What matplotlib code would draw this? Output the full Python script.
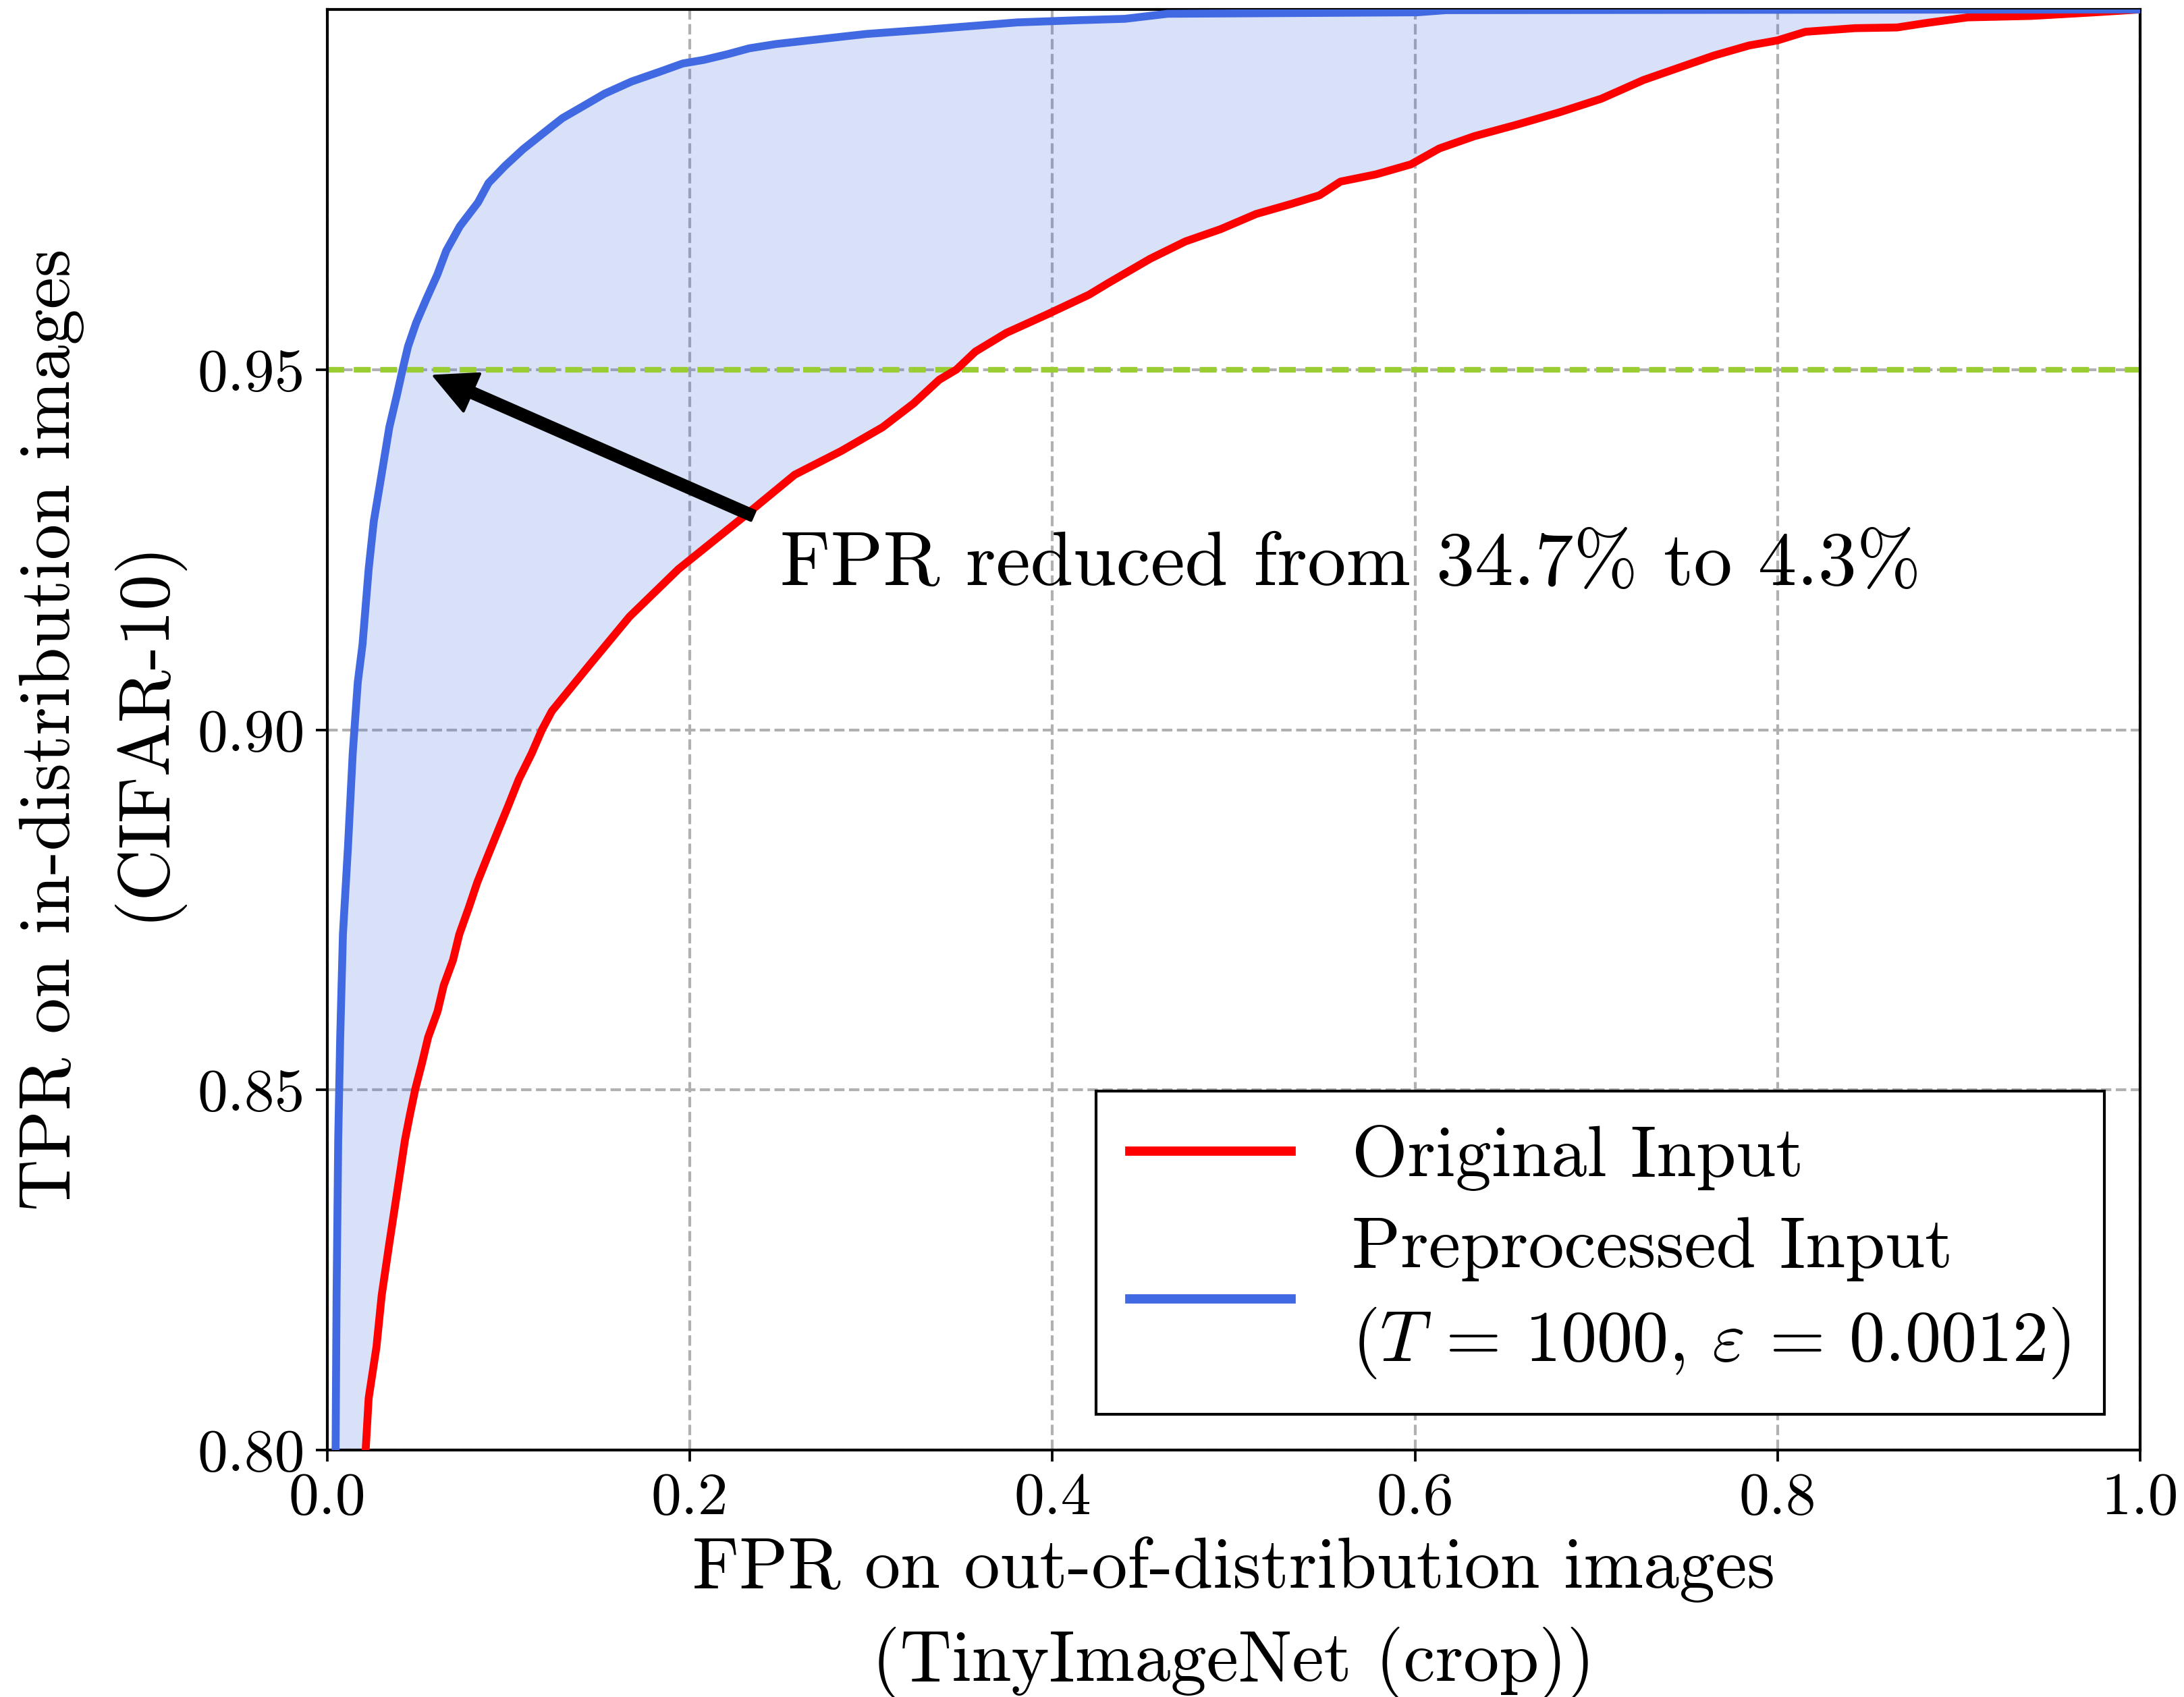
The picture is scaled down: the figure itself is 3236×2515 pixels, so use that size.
import matplotlib
matplotlib.use("Agg")
import matplotlib.pyplot as plt
import numpy as np

plt.rcParams['font.family'] = 'cmr10'
plt.rcParams['mathtext.fontset'] = 'cm'
plt.rcParams['axes.formatter.use_mathtext'] = True
plt.rcParams['axes.unicode_minus'] = False

# ---- data ----
blue_fpr = [0.0043, 0.0051, 0.0060, 0.0071, 0.0086, 0.0114, 0.0140, 0.0168, 0.0194, 0.0228,
            0.0256, 0.0299, 0.0342, 0.0385, 0.0415, 0.0445, 0.0490, 0.0548, 0.0607, 0.0656,
            0.0731, 0.0831, 0.0889, 0.0981, 0.1080, 0.1180, 0.1296, 0.1413, 0.1529, 0.1679,
            0.1828, 0.1961, 0.2077, 0.2210, 0.2327, 0.2476, 0.2975, 0.3306, 0.3805, 0.4136,
            0.4400, 0.4635, 0.6010, 0.6170, 1.0]
blue_tpr = [0.7900, 0.8215, 0.8430, 0.8573, 0.8716, 0.8838, 0.8967, 0.9066, 0.9118, 0.9223,
            0.9289, 0.9354, 0.9420, 0.9466, 0.9500, 0.9532, 0.9565, 0.9599, 0.9632, 0.9665,
            0.9699, 0.9732, 0.9759, 0.9783, 0.9806, 0.9826, 0.9849, 0.9866, 0.9883, 0.9900,
            0.9913, 0.9925, 0.9930, 0.9938, 0.9946, 0.9952, 0.9966, 0.9972, 0.9982, 0.9985,
            0.9987, 0.9994, 0.9996, 0.9999, 1.0]

red_fpr = [0.0200, 0.0228, 0.0271, 0.0300, 0.0342, 0.0385, 0.0428, 0.0456, 0.0485, 0.0522,
           0.0556, 0.0608, 0.0642, 0.0693, 0.0728, 0.0779, 0.0827, 0.0884, 0.0942, 0.0999,
           0.1056, 0.1127, 0.1184, 0.1239, 0.1453, 0.1667, 0.1937, 0.2293, 0.2578, 0.2835,
           0.3063, 0.3234, 0.3376, 0.3470, 0.3575, 0.3746, 0.3974, 0.4202, 0.4307, 0.4540,
           0.4734, 0.4928, 0.5123, 0.5317, 0.5473, 0.5589, 0.5784, 0.5978, 0.6134, 0.6327,
           0.6561, 0.6794, 0.7027, 0.7260, 0.7454, 0.7649, 0.7843, 0.7999, 0.8154, 0.8427,
           0.8660, 0.8815, 0.9049, 0.9399, 0.9749, 1.0]
red_tpr = [0.7950, 0.8072, 0.8143, 0.8215, 0.8287, 0.8358, 0.8430, 0.8466, 0.8501, 0.8537,
           0.8573, 0.8609, 0.8645, 0.8680, 0.8716, 0.8752, 0.8788, 0.8824, 0.8860, 0.8895,
           0.8931, 0.8967, 0.9000, 0.9026, 0.9092, 0.9157, 0.9223, 0.9295, 0.9354, 0.9387,
           0.9420, 0.9453, 0.9486, 0.9500, 0.9525, 0.9551, 0.9577, 0.9604, 0.9620, 0.9654,
           0.9678, 0.9695, 0.9716, 0.9730, 0.9742, 0.9761, 0.9771, 0.9785, 0.9807, 0.9824,
           0.9840, 0.9857, 0.9876, 0.9902, 0.9919, 0.9936, 0.9950, 0.9957, 0.9969, 0.9974,
           0.9975, 0.9981, 0.9989, 0.9991, 0.9996, 1.0]

tpr_threshold = 0.95
fpr_orig_at95 = 34.7
fpr_pre_at95 = 4.3

x_ticks = [0.0, 0.2, 0.4, 0.6, 0.8, 1.0]
x_ticklabels = ['0.0', '0.2', '0.4', '0.6', '0.8', '1.0']
y_ticks = [0.80, 0.85, 0.90, 0.95]
y_ticklabels = ['0.80', '0.85', '0.90', '0.95']

label_orig = 'Original Input'
label_pre = 'Preprocessed Input\n($T$ = 1000, $\\varepsilon$ = 0.0012)'

# ---- figure ----
W, H, DPI = 3237, 2515, 300
fig = plt.figure(figsize=(W / DPI, H / DPI), dpi=DPI)
ax = fig.add_axes([485 / W, 1 - 2149 / H, 2686 / W, 2135 / H])

ax.grid(True, color='#b0b0b0', linestyle='--', linewidth=1.0, zorder=0)
ax.set_axisbelow(True)

ax.fill(np.concatenate([blue_fpr, red_fpr[::-1]]),
        np.concatenate([blue_tpr, red_tpr[::-1]]),
        color='royalblue', alpha=0.2, lw=0, zorder=1)

l1, = ax.plot(red_fpr, red_tpr, color='red', lw=2.8, label=label_orig, zorder=3)
l2, = ax.plot(blue_fpr, blue_tpr, color='royalblue', lw=2.8, label=label_pre, zorder=3)

ax.axhline(tpr_threshold, color='yellowgreen', lw=2.0, linestyle=(0, (3.0, 1.7)), zorder=2)

ax.annotate('', xy=(0.0590, 0.9491), xytext=(0.2348, 0.9297),
            arrowprops=dict(facecolor='black', edgecolor='black', width=3.6,
                            headwidth=14.5, headlength=14.5, shrink=0.0),
            zorder=5)
ax.text(0.250, 0.9201, 'FPR reduced from %.1f%% to %.1f%%' % (fpr_orig_at95, fpr_pre_at95),
        fontsize=27.5, va='baseline', ha='left', zorder=6)

ax.set_xlim(0, 1)
ax.set_ylim(0.80, 1.0)
ax.set_xticks(x_ticks)
ax.set_xticklabels(x_ticklabels)
ax.set_yticks(y_ticks)
ax.set_yticklabels(y_ticklabels)
ax.tick_params(axis='both', labelsize=21.5, length=4, width=0.9, pad=4)
for s in ax.spines.values():
    s.set_linewidth(1.0)

ax.set_xlabel('FPR on out-of-distribution images\n(TinyImageNet (crop))', fontsize=25.5,
              linespacing=1.45)
ax.set_ylabel('TPR on in-distribution images\n(CIFAR-10)', fontsize=25.5, linespacing=1.44)
ax.xaxis.set_label_coords(0.5, -0.060)
ax.yaxis.set_label_coords(-0.081, 0.5)

leg = ax.legend(loc='lower right', fontsize=25.5, fancybox=False, framealpha=1.0,
                edgecolor='black', handlelength=2.25, handletextpad=0.85,
                borderpad=0.47, labelspacing=0.36)
leg.get_frame().set_linewidth(1.0)
for t in leg.get_texts():
    t.set_linespacing(1.44)
for ln in leg.get_lines():
    ln.set_linewidth(3.3)

fig.savefig('out.png', dpi=DPI)
